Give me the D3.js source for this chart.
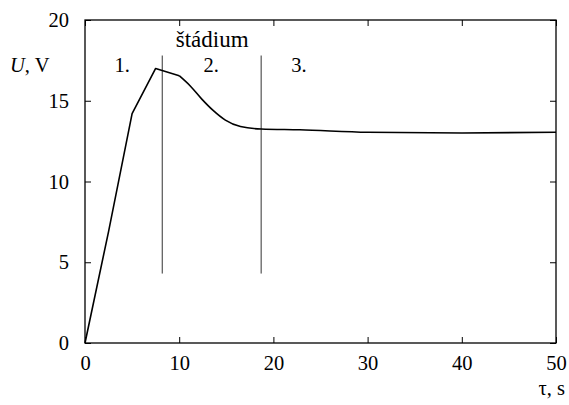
<!DOCTYPE html>
<html><head><meta charset="utf-8">
<script src="https://cdn.jsdelivr.net/npm/d3@7"></script>
<style>body{margin:0;background:#fff}svg{display:block}svg text{font-family:"Liberation Serif","Times New Roman",Times,serif !important}</style>
</head><body><svg id="c" width="569" height="405"></svg>
<script>
const tVals = [0, 2.5, 5, 7.5, 10, 11.2, 12.4, 13.6, 14.9, 16.5, 18.7, 22.8, 30, 40, 50];
const uVals = [0, 6.9, 14.2, 17.0, 16.55, 15.9, 15.1, 14.4, 13.8, 13.4, 13.25, 13.2, 13.05, 13.0, 13.05];
const stageLines = [8.2, 18.7];
const stageLineRange = [4.3, 17.8];
const stageLabels = [{t: 3.95, u: 16.75, text: "1."}, {t: 13.4, u: 16.75, text: "2."}, {t: 22.7, u: 16.75, text: "3."}];
const stageTitle = {t: 13.5, u: 18.35, text: "štádium"};
const xTicks = [0, 10, 20, 30, 40, 50];
const yTicks = [0, 5, 10, 15, 20];
const yLabel = "U";
const yUnit = ", V";
const xLabel = "τ, s";

const svg = d3.select("#c");
const L = 85, R = 556, T = 20, B = 343;
const FS = 20.5;
const x = d3.scaleLinear().domain([0, 50]).range([L, R]);
const y = d3.scaleLinear().domain([0, 20]).range([B, T]);

const g = svg.append("g");
const ax = (gen, tr) => {
  const a = g.append("g").attr("transform", tr).call(gen);
  a.select(".domain").remove();
  a.selectAll("line").attr("stroke", "#000").attr("stroke-width", 1);
  return a;
};
ax(d3.axisBottom(x).tickValues(xTicks).tickSize(-6).tickPadding(12).tickFormat(d3.format("d")), `translate(0,${B})`)
  .selectAll("text").attr("font-size", FS).attr("fill", "#000");
ax(d3.axisLeft(y).tickValues(yTicks).tickSize(-6).tickPadding(16).tickFormat(d3.format("d")), `translate(${L},0)`)
  .selectAll("text").attr("font-size", FS).attr("fill", "#000");
ax(d3.axisTop(x).tickValues(xTicks).tickSize(-6).tickFormat(""), `translate(0,${T})`);
ax(d3.axisRight(y).tickValues(yTicks).tickSize(-6).tickFormat(""), `translate(${R},0)`);

g.append("rect").attr("x", L).attr("y", T).attr("width", R - L).attr("height", B - T)
  .attr("fill", "none").attr("stroke", "#000").attr("stroke-width", 1.3);

g.selectAll(".sl").data(stageLines).enter().append("line")
  .attr("x1", d => x(d)).attr("x2", d => x(d))
  .attr("y1", y(stageLineRange[0])).attr("y2", y(stageLineRange[1]))
  .attr("stroke", "#333").attr("stroke-width", 1);

// data line: straight segments up to t=10, smooth decay afterwards
const pts = tVals.map((t, i) => [t, uVals[i]]);
const line = d3.line().x(d => x(d[0])).y(d => y(d[1]));
g.append("path").datum(pts.filter(d => d[0] <= 10))
  .attr("d", line.curve(d3.curveLinear))
  .attr("fill", "none").attr("stroke", "#000").attr("stroke-width", 1.6).attr("stroke-linejoin", "round");
g.append("path").datum(pts.filter(d => d[0] >= 10))
  .attr("d", line.curve(d3.curveMonotoneX))
  .attr("fill", "none").attr("stroke", "#000").attr("stroke-width", 1.6);

g.selectAll(".lab").data(stageLabels).enter().append("text")
  .attr("x", d => x(d.t)).attr("y", d => y(d.u)).attr("text-anchor", "middle")
  .attr("font-size", FS).text(d => d.text);
g.append("text").attr("x", x(stageTitle.t)).attr("y", y(stageTitle.u)).attr("text-anchor", "middle")
  .attr("font-size", 23).text(stageTitle.text);

const yl = g.append("text").attr("x", 10).attr("y", 72).attr("font-size", FS);
yl.append("tspan").attr("font-style", "italic").text(yLabel);
yl.append("tspan").text(yUnit);

g.append("text").attr("x", 565).attr("y", 395).attr("text-anchor", "end").attr("font-size", FS).text(xLabel);
</script></body></html>
